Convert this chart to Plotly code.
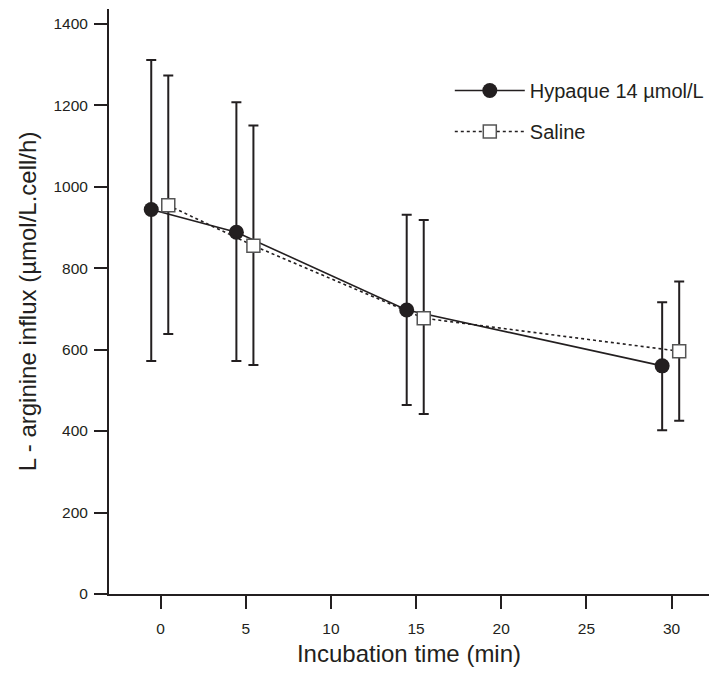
import plotly.graph_objects as go

# Data
times = [0, 5, 15, 30]
hyp_mean = [944, 888, 697, 560]
hyp_top = [1311, 1207, 931, 716]
hyp_bottom = [572, 572, 464, 402]
sal_mean = [954, 855, 677, 596]
sal_top = [1273, 1150, 918, 767]
sal_bottom = [638, 562, 442, 425]
hyp_offset = -0.55
sal_offset = 0.45
x_ticks = [0, 5, 10, 15, 20, 25, 30]
y_ticks = [0, 200, 400, 600, 800, 1000, 1200, 1400]

INK = "#231f20"
FONT = "Liberation Sans, Arial, sans-serif"

hx = [t + hyp_offset for t in times]
sx = [t + sal_offset for t in times]

fig = go.Figure()
fig.add_trace(go.Scatter(
    x=hx, y=hyp_mean, mode="lines+markers", name="Hypaque 14 µmol/L",
    legendgroup="a",
    line=dict(color=INK, width=1.6),
    marker=dict(symbol="circle", size=15, color=INK, line=dict(width=0)),
    error_y=dict(type="data", symmetric=False,
                 array=[t - m for t, m in zip(hyp_top, hyp_mean)],
                 arrayminus=[m - b for m, b in zip(hyp_mean, hyp_bottom)],
                 color=INK, thickness=2, width=5),
))
fig.add_trace(go.Scatter(
    x=sx, y=sal_mean, mode="lines+markers", name="Saline",
    legendgroup="b",
    line=dict(color=INK, width=1.6, dash="dot"),
    marker=dict(symbol="square", size=13, color="white", line=dict(width=1.5, color="#555555")),
    error_y=dict(type="data", symmetric=False,
                 array=[t - m for t, m in zip(sal_top, sal_mean)],
                 arrayminus=[m - b for m, b in zip(sal_mean, sal_bottom)],
                 color=INK, thickness=2, width=5),
))

fig.update_layout(
    width=709, height=675,
    margin=dict(l=109, r=0, t=9, b=81),
    paper_bgcolor="white", plot_bgcolor="white",
    font=dict(family=FONT, color=INK),
    showlegend=True,
    legend=dict(x=0.568, y=0.894, xanchor="left", yanchor="top",
                font=dict(size=20, color=INK, family=FONT),
                bgcolor="rgba(0,0,0,0)", itemwidth=70,
                tracegroupgap=12),
    xaxis=dict(range=[-3.03, 32.2], tickvals=x_ticks, ticks="outside", ticklen=13,
               tickwidth=2, tickcolor=INK, showline=True, linewidth=2, linecolor=INK,
               showgrid=False, zeroline=False, tickfont=dict(size=15.5, color=INK),
               ticklabelstandoff=6,
               title=dict(text="Incubation time (min)", font=dict(size=24, color=INK), standoff=10)),
    yaxis=dict(range=[0, 1436], tickvals=y_ticks, ticks="outside", ticklen=13,
               tickwidth=2, tickcolor=INK, showline=True, linewidth=2, linecolor=INK,
               showgrid=False, zeroline=False, tickfont=dict(size=15.5, color=INK),
               ticklabelstandoff=3,
               title=dict(text="L - arginine influx (µmol/L.cell/h)", font=dict(size=24, color=INK), standoff=10)),
)

fig.write_html("out.html")
